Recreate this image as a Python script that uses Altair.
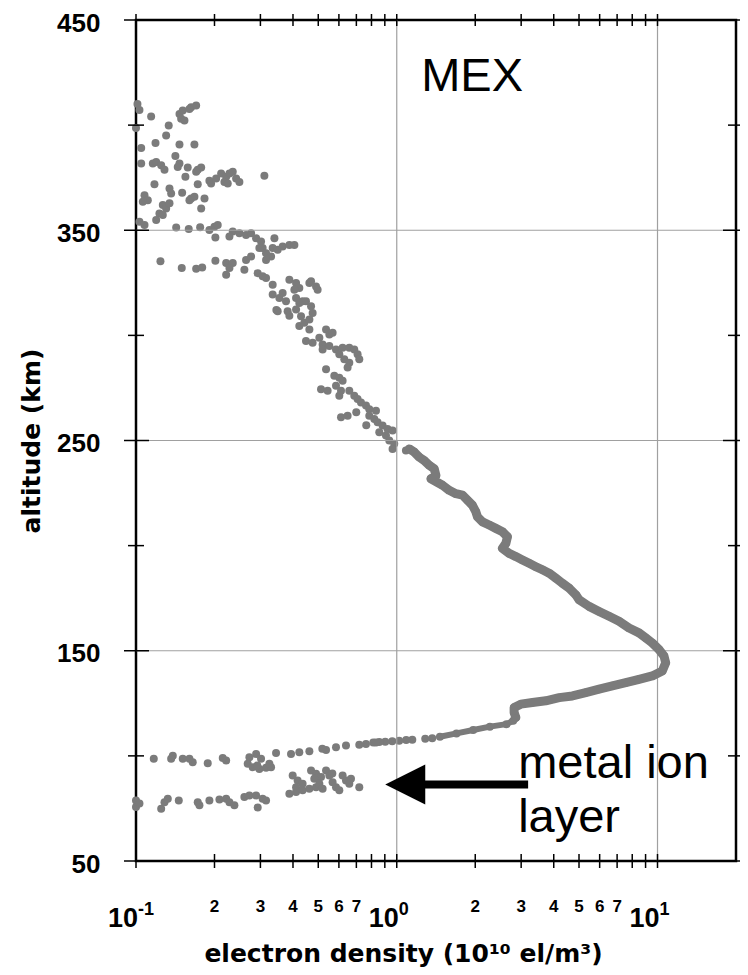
import altair as alt
import pandas as pd

# ---------------- data ----------------
# scattered points above ~245 km
upper_density = [0.1013, 0.1031, 0.1143, 0.100, 0.1335, 0.1305, 0.1468, 0.1511, 0.1490, 0.1534,
                 0.1627, 0.1701, 0.1603, 0.1047, 0.1188, 0.1468, 0.1675, 0.1047, 0.1160, 0.1195,
                 0.1249, 0.1286, 0.1416, 0.1468, 0.1446, 0.1579, 0.1725, 0.1778, 0.1701, 0.1547,
                 0.1725, 0.1912, 0.1941, 0.2029, 0.2121, 0.2217, 0.2282, 0.2350, 0.2421, 0.2492,
                 0.2183, 0.2248, 0.3107, 0.1177, 0.1344, 0.1364, 0.1503, 0.1627, 0.1675, 0.1831,
                 0.1078, 0.1110, 0.1062, 0.1267, 0.1305, 0.1344, 0.1230, 0.1195, 0.1267, 0.1031,
                 0.1078, 0.1603, 0.1778, 0.1426, 0.1593, 0.1762, 0.1912, 0.1999, 0.2058, 0.2016,
                 0.2350, 0.2492, 0.2643, 0.2763, 0.2282, 0.2888, 0.3017, 0.3060, 0.3153, 0.2972,
                 0.3395, 0.3343, 0.3494, 0.3651, 0.3874, 0.4049, 0.3296, 0.3153, 0.1241, 0.1498,
                 0.1701, 0.1794, 0.2016, 0.2217, 0.2350, 0.2282, 0.2217, 0.2643, 0.2763, 0.2604,
                 0.2929, 0.3060, 0.3153, 0.3343, 0.3874, 0.4110, 0.4230, 0.4049, 0.4623, 0.4903,
                 0.3343, 0.3547, 0.3761, 0.4110, 0.4355, 0.4692, 0.4972, 0.3651, 0.4230, 0.4487,
                 0.4692, 0.4758, 0.3494, 0.3815, 0.4110, 0.4295, 0.4230, 0.4421, 0.4623, 0.4623,
                 0.4487, 0.4758, 0.5048, 0.5356, 0.5514, 0.5675, 0.5196, 0.5514, 0.5196, 0.5848,
                 0.6200, 0.6577, 0.6873, 0.7076, 0.7183, 0.6022, 0.6293, 0.6577, 0.6479, 0.5356,
                 0.5761, 0.6022, 0.6200, 0.5124, 0.5431, 0.5848, 0.6112, 0.6022, 0.6577, 0.6873,
                 0.7076, 0.7292, 0.7621, 0.7846, 0.8325, 0.6112, 0.6479, 0.7846, 0.8201, 0.8441,
                 0.8822, 0.9221, 0.9636, 0.8571, 0.9091, 0.9361, 0.9782, 0.9636, 1.0845, 0.6994,
                 0.764, 0.3874, 0.3454]
upper_alt = [410.1, 407.2, 404.1, 398.6, 399.8, 395.1, 405.3, 406.9, 403.0, 402.2,
             408.5, 409.3, 407.7, 389.1, 391.5, 390.8, 390.8, 381.7, 381.7, 382.5,
             380.9, 378.8, 385.3, 381.7, 380.1, 379.8, 378.8, 379.8, 377.8, 375.4,
             371.9, 373.5, 372.2, 374.6, 377.0, 375.4, 377.0, 377.8, 374.6, 373.0,
             373.0, 372.2, 375.9, 371.9, 369.9, 367.5, 367.8, 365.1, 365.9, 365.1,
             366.7, 364.3, 363.6, 362.0, 360.4, 362.8, 358.0, 354.9, 357.2, 354.1,
             352.5, 364.3, 360.4, 351.3, 350.6, 351.4, 350.1, 351.7, 352.5, 346.5,
             349.4, 348.6, 347.8, 348.6, 347.0, 346.2, 344.6, 341.5, 339.1, 341.5,
             346.2, 341.5, 340.7, 342.3, 343.0, 343.0, 337.5, 335.9, 335.2, 332.0,
             331.7, 332.3, 335.5, 334.4, 334.4, 332.0, 328.8, 335.9, 337.5, 331.2,
             329.6, 328.1, 327.3, 324.1, 326.5, 324.9, 322.5, 321.7, 324.9, 323.3,
             319.4, 317.8, 316.2, 317.8, 316.2, 325.7, 321.7, 320.2, 315.4, 316.2,
             313.9, 310.7, 311.5, 311.5, 312.3, 309.1, 304.4, 306.0, 307.5, 302.8,
             297.3, 296.5, 298.9, 302.8, 300.4, 301.2, 295.7, 294.9, 293.3, 293.3,
             294.1, 294.1, 293.3, 291.0, 288.6, 291.0, 288.6, 287.0, 284.7, 283.9,
             280.8, 279.9, 278.4, 274.4, 273.7, 276.0, 273.7, 271.3, 273.7, 271.3,
             269.7, 268.1, 266.6, 264.9, 264.2, 261.0, 261.8, 261.8, 260.2, 258.7,
             257.1, 255.5, 254.7, 253.9, 252.4, 250.0, 248.4, 246.0, 245.3, 263.4,
             257.2, 309.3, 312.1]

# dense profile (ordered along the curve)
band_density = [1.117, 1.167, 1.219, 1.274, 1.332, 1.392, 1.413, 1.352, 1.498, 1.589,
                1.686, 1.787, 1.867, 1.951, 2.011, 2.040, 2.132, 2.262, 2.399, 2.543,
                2.658, 2.621, 2.543, 2.698, 2.862, 3.034, 3.219, 3.415, 3.620, 3.840,
                4.074, 4.318, 4.581, 4.860, 5.003, 5.465, 5.969, 6.519, 7.120, 7.777,
                8.494, 9.012, 9.553, 10.13, 10.59, 10.75, 10.43, 9.553, 8.494, 7.554,
                6.711, 5.969, 5.308, 4.717, 4.194, 3.729, 3.314, 2.991, 2.819, 2.819,
                2.862]
band_alt = [246.0, 244.5, 242.1, 240.5, 238.2, 236.6, 233.4, 231.8, 228.7, 226.3,
            224.7, 224.0, 221.6, 219.2, 216.1, 213.7, 211.3, 209.8, 208.2, 206.6,
            204.2, 201.1, 198.7, 196.3, 194.8, 193.2, 191.6, 190.0, 188.5, 186.9,
            184.5, 182.1, 179.8, 176.6, 174.3, 171.1, 168.7, 166.4, 164.0, 160.8,
            158.5, 156.1, 153.7, 150.6, 147.5, 144.3, 140.4, 138.0, 136.4, 134.8,
            133.3, 131.7, 130.1, 128.5, 127.7, 126.2, 125.4, 124.6, 123.0, 120.6,
            118.3]

# thinner part of the profile below the step
thin_density = [2.862, 2.796, 2.635, 2.276, 1.964, 1.695, 1.464]
thin_alt = [118.3, 116.7, 115.1, 113.9, 112.3, 110.7, 109.1]

# scattered points below ~110 km
lower_density = [1.368, 1.286, 1.147, 1.087, 1.022, 0.961, 0.9036, 0.857, 0.8128, 0.8325,
                 0.7621, 0.7183, 0.6387, 0.5848, 0.5356, 0.5183, 0.4623, 0.4230, 0.3931, 0.3444,
                 0.2888, 0.2722, 0.2682, 0.2802, 0.2972, 0.3153, 0.3296, 0.3247, 0.3017, 0.2217,
                 0.2151, 0.1884, 0.1650, 0.1603, 0.1511, 0.1384, 0.1364, 0.1170, 0.2918,
                 0.100, 0.100, 0.1031, 0.1249, 0.1286, 0.1324, 0.1459, 0.1725, 0.1751, 0.1912,
                 0.2089, 0.2217, 0.2282, 0.2384, 0.2604, 0.2722, 0.2888, 0.3060, 0.3153, 0.2929,
                 0.3989, 0.4168, 0.4355, 0.4110, 0.3874, 0.4110, 0.4355, 0.4623, 0.4903, 0.4692,
                 0.4903, 0.5124, 0.4828, 0.5356, 0.5514, 0.5675, 0.5848, 0.6022, 0.5048, 0.5196,
                 0.6200, 0.6387, 0.6577, 0.6675, 0.7183, 0.5661]
lower_alt = [108.4, 108.2, 107.7, 107.5, 107.2, 107.0, 106.7, 106.6, 106.4, 106.4,
             105.7, 105.3, 104.9, 104.1, 102.8, 103.4, 102.2, 101.7, 100.9, 101.4,
             100.9, 99.3, 96.2, 94.6, 93.8, 94.3, 94.6, 96.2, 98.6, 97.8,
             99.0, 96.5, 97.0, 98.6, 98.6, 100.1, 98.6, 98.6, 95.4,
             78.8, 75.7, 77.3, 74.9, 78.0, 79.6, 78.8, 78.0, 76.5, 78.8,
             79.2, 79.6, 78.0, 76.5, 80.4, 81.2, 81.2, 79.6, 78.8, 75.4,
             90.7, 88.3, 86.7, 85.1, 82.0, 82.8, 83.6, 84.4, 85.1, 93.0,
             91.5, 89.9, 89.1, 93.0, 90.7, 87.5, 85.1, 83.6, 86.7, 84.4,
             90.7, 88.3, 86.7, 89.1, 85.1, 91.6]

# axes / grid / labels
grid_alt = [150, 250, 350]
grid_density = [1, 10]
y_major = [50, 150, 250, 350, 450]
y_minor = [100, 200, 300, 400]
x_ticks = [0.1, 0.2, 0.3, 0.4, 0.5, 0.6, 0.7, 0.8, 0.9, 1, 2, 3, 4, 5, 6, 7, 8, 9, 10]
x_minor_vals = [0.2, 0.3, 0.4, 0.5, 0.6, 0.7, 2, 3, 4, 5, 6, 7]
x_minor_text = ["2", "3", "4", "5", "6", "7", "2", "3", "4", "5", "6", "7"]
x_decades = [0.1, 1, 10]
x_decade_exp = ["-1", "0", "1"]

# annotations
notes_density = [1.241, 2.921, 2.921]
notes_alt = [416.2, 89.7, 63.7]
notes_text = ["MEX", "metal ion", "layer"]
arrow_tip_density = [1.078]
arrow_alt = [86.4]
arrow_tail_density = [3.19]
arrow_shaft_start = [1.2]

W, H = 600, 841
FONT = "Liberation Sans"
TFONT = "DejaVu Sans"
GRAY = "#7b7b7b"

xs = alt.Scale(type="log", domain=[0.1, 20], nice=False)
ys = alt.Scale(domain=[50, 450], nice=False, zero=False)

x_axis = alt.Axis(labels=False, ticks=False, domain=False, grid=False,
                  title="electron density (10¹⁰ el/m³)", titleFont=TFONT, titleFontSize=25,
                  titleFontWeight="bold", titleColor="black", titleBaseline="alphabetic",
                  titlePadding=100, titleX=267, titleAlign="center")
y_axis = alt.Axis(values=y_major, ticks=False, domain=False, grid=False,
                  labelFont=FONT, labelFontSize=26, labelFontWeight="bold", labelColor="black",
                  labelPadding=36, labelOffset=3,
                  title="altitude (km)", titleFont=TFONT, titleFontSize=25,
                  titleFontWeight="bold", titleColor="black", titlePadding=12)


def X(field="d"):
    return alt.X(field + ":Q", scale=xs, axis=x_axis)


def Y(field="a"):
    return alt.Y(field + ":Q", scale=ys, axis=y_axis)


df_up = pd.DataFrame({"d": upper_density, "a": upper_alt})
df_band = pd.DataFrame({"d": band_density, "a": band_alt, "o": list(range(len(band_alt)))})
df_thin = pd.DataFrame({"d": thin_density, "a": thin_alt, "o": list(range(len(thin_alt)))})
df_low = pd.DataFrame({"d": lower_density, "a": lower_alt})
df_pts = pd.concat([df_up, df_band[["d", "a"]], df_thin[["d", "a"]], df_low], ignore_index=True)

points = alt.Chart(df_pts).mark_circle(color=GRAY, opacity=1, size=64).encode(x=X(), y=Y())

grid_h = alt.Chart(pd.DataFrame({"a": grid_alt})).mark_rule(
    color="#a0a0a0", strokeWidth=1.2).encode(y=Y())
grid_v = alt.Chart(pd.DataFrame({"d": grid_density})).mark_rule(
    color="#a0a0a0", strokeWidth=1.2).encode(x=X())

band_line = alt.Chart(df_band).mark_line(color=GRAY, strokeWidth=9, strokeCap="round",
                                          strokeJoin="round").encode(x=X(), y=Y(), order="o:Q")
thin_line = alt.Chart(df_thin).mark_line(color=GRAY, strokeWidth=6, strokeCap="round",
                                          strokeJoin="round").encode(x=X(), y=Y(), order="o:Q")

# crossing tick marks on the frame
ymaj = pd.DataFrame({"a": y_major})
ymin = pd.DataFrame({"a": y_minor})
tick_l_maj = alt.Chart(ymaj).mark_rule(color="black", strokeWidth=1.5).encode(
    y=Y(), x=alt.value(-12), x2=alt.value(13))
tick_l_min = alt.Chart(ymin).mark_rule(color="black", strokeWidth=1.5).encode(
    y=Y(), x=alt.value(-8), x2=alt.value(8))
tick_r_maj = alt.Chart(ymaj).mark_rule(color="black", strokeWidth=1.5).encode(
    y=Y(), x=alt.value(W - 13), x2=alt.value(W + 4))
tick_r_min = alt.Chart(ymin).mark_rule(color="black", strokeWidth=1.5).encode(
    y=Y(), x=alt.value(W - 8), x2=alt.value(W + 4))
xt = pd.DataFrame({"d": x_ticks})
tick_b = alt.Chart(xt).mark_rule(color="black", strokeWidth=1.5).encode(
    x=X(), y=alt.value(H - 7), y2=alt.value(H + 7))
tick_t = alt.Chart(xt).mark_rule(color="black", strokeWidth=1.5).encode(
    x=X(), y=alt.value(-6), y2=alt.value(6))

# x tick labels
lab_minor = alt.Chart(pd.DataFrame({"d": x_minor_vals, "t": x_minor_text})).mark_text(
    font=FONT, fontSize=17, fontWeight="bold", color="black", align="center",
    baseline="alphabetic").encode(x=X(), y=alt.value(H + 51), text="t:N")
lab_dec = alt.Chart(pd.DataFrame({"d": x_decades})).mark_text(
    font=FONT, fontSize=27, fontWeight="bold", color="black", align="right",
    baseline="alphabetic", dx=2, text="10").encode(x=X(), y=alt.value(H + 66))
lab_exp = alt.Chart(pd.DataFrame({"d": x_decades, "t": x_decade_exp})).mark_text(
    font=FONT, fontSize=18, fontWeight="bold", color="black", align="left",
    baseline="alphabetic", dx=2).encode(x=X(), y=alt.value(H + 54), text="t:N")

# annotations
notes = alt.Chart(pd.DataFrame({"d": notes_density, "a": notes_alt, "t": notes_text})).mark_text(
    font=FONT, fontSize=47, color="black", align="left", baseline="alphabetic").encode(
    x=X(), y=Y(), text="t:N")
shaft = alt.Chart(pd.DataFrame({"d": arrow_shaft_start, "d2": arrow_tail_density, "a": arrow_alt})).mark_rule(
    color="black", strokeWidth=8).encode(x=X(), x2="d2:Q", y=Y())
head = alt.Chart(pd.DataFrame({"d": arrow_tip_density, "a": arrow_alt})).mark_point(
    shape="M -1 0 L 1 -1 L 1 1 Z", size=1600, filled=True, color="black", opacity=1,
    strokeWidth=0).encode(x=X(), y=Y())

chart = alt.layer(
    points, grid_h, grid_v, band_line, thin_line,
    tick_l_maj, tick_l_min, tick_r_maj, tick_r_min, tick_b, tick_t,
    lab_minor, lab_dec, lab_exp, notes, shaft, head
).properties(
    width=W, height=H,
    padding={"left": 128, "top": 12, "right": 4, "bottom": 106},
    autosize=alt.AutoSizeParams(type="none"),
).configure_view(
    stroke="black", strokeWidth=2.5
)

chart.save("out.html", embed_options={"renderer": "svg", "actions": False})
